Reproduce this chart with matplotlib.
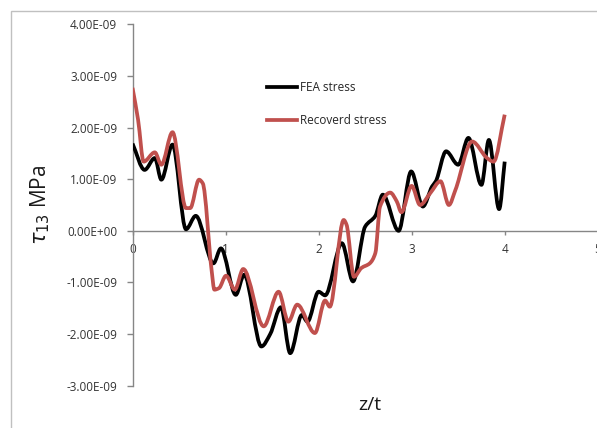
import matplotlib
matplotlib.use("Agg")
import matplotlib.pyplot as plt
from matplotlib.path import Path
from matplotlib.patches import PathPatch, Rectangle
from matplotlib.lines import Line2D
import numpy as np

plt.rcParams['font.family'] = ['Open Sans', 'DejaVu Sans']

# Through-thickness position z/t and shear stress (units of 1e-9 MPa)
fea_z = [0.00, 0.13, 0.24, 0.31, 0.43, 0.575, 0.68, 0.87, 0.95, 1.11, 1.20,
         1.385, 1.48, 1.595, 1.695, 1.82, 1.88, 2.00, 2.07, 2.25, 2.37, 2.50,
         2.61, 2.69, 2.86, 2.995, 3.12, 3.22, 3.26, 3.37, 3.50, 3.61, 3.75,
         3.83, 3.94, 4.00]
fea_stress = [1.69, 1.18, 1.41, 0.99, 1.67, 0.03, 0.29, -0.63, -0.34, -1.24,
              -0.85, -2.24, -2.00, -1.48, -2.37, -1.63, -1.76, -1.18, -1.25,
              -0.24, -0.98, 0.08, 0.29, 0.70, 0.00, 1.15, 0.47, 0.86, 0.96,
              1.54, 1.28, 1.80, 0.89, 1.76, 0.42, 1.34]

rec_z = [0.00, 0.06, 0.12, 0.24, 0.31, 0.43, 0.575, 0.62, 0.715, 0.755, 0.85,
         0.88, 0.93, 1.005, 1.10, 1.19, 1.41, 1.57, 1.675, 1.77, 1.96, 2.07,
         2.12, 2.27, 2.30, 2.38, 2.46, 2.55, 2.61, 2.66, 2.77, 2.84, 2.89,
         3.00, 3.09, 3.20, 3.31, 3.40, 3.47, 3.65, 3.81, 3.88, 4.00]
rec_stress = [2.77, 2.15, 1.34, 1.52, 1.28, 1.91, 0.44, 0.44, 0.99, 0.92,
              -0.76, -1.14, -1.11, -0.87, -1.14, -0.74, -1.85, -1.18, -1.76,
              -1.43, -1.98, -1.35, -1.47, 0.21, 0.12, -0.89, -0.72, -0.63,
              -0.43, 0.47, 0.74, 0.57, 0.36, 0.87, 0.50, 0.73, 0.96, 0.50,
              0.79, 1.73, 1.41, 1.34, 2.25]

series_names = ["FEA stress", "Recoverd stress"]
series_colors = ["#000000", "#C0504D"]

y_ticks = [-3, -2, -1, 0, 1, 2, 3, 4]
y_tick_labels = ["-3.00E-09", "-2.00E-09", "-1.00E-09", "0.00E+00",
                 "1.00E-09", "2.00E-09", "3.00E-09", "4.00E-09"]
x_ticks = [0, 1, 2, 3, 4, 5]
x_tick_labels = ["0", "1", "2", "3", "4", "5"]


def smooth_path(xs, ys):
    """Cubic Bezier path through the points with shape-preserving slopes."""
    x = np.asarray(xs, float)
    y = np.asarray(ys, float)
    h = np.diff(x)
    d = np.diff(y) / h
    n = len(x)
    m = np.zeros(n)
    for i in range(1, n - 1):
        if d[i - 1] * d[i] > 0:
            w1 = 2 * h[i] + h[i - 1]
            w2 = h[i] + 2 * h[i - 1]
            m[i] = (w1 + w2) / (w1 / d[i - 1] + w2 / d[i])
    m[0] = d[0]
    m[-1] = d[-1]
    verts = [(x[0], y[0])]
    codes = [Path.MOVETO]
    for i in range(n - 1):
        verts += [(x[i] + h[i] / 3, y[i] + m[i] * h[i] / 3),
                  (x[i + 1] - h[i] / 3, y[i + 1] - m[i + 1] * h[i] / 3),
                  (x[i + 1], y[i + 1])]
        codes += [Path.CURVE4] * 3
    return Path(verts, codes)


W, H = 597, 428
fig = plt.figure(figsize=(W / 100, H / 100), dpi=100)
fig.patch.set_facecolor("white")

# outer chart frame
fig.add_artist(Rectangle((10.7 / W, -0.5), 2.0, 1.5 - 10.7 / H,
                         transform=fig.transFigure, fill=False,
                         edgecolor="#C0C0C0", lw=1.0))

left, right = 132.5 / W, 597.75 / W
bottom, top = 1 - 385.7 / H, 1 - 24.3 / H
ax = fig.add_axes([left, bottom, right - left, top - bottom])
ax.set_xlim(0, 5)
ax.set_ylim(-3, 4)
ax.patch.set_alpha(0)

axis_color = "#868686"
for s in ["top", "right"]:
    ax.spines[s].set_visible(False)
ax.spines["left"].set_color(axis_color)
ax.spines["bottom"].set_color(axis_color)
ax.spines["bottom"].set_position(("data", 0))
ax.spines["left"].set_linewidth(1.0)
ax.spines["bottom"].set_linewidth(1.0)

ax.set_yticks(y_ticks)
ax.set_yticklabels(y_tick_labels)
ax.set_xticks(x_ticks)
ax.set_xticklabels(x_tick_labels)
ax.tick_params(axis="y", direction="out", length=4, width=1, color=axis_color,
               pad=7, labelsize=8.5, labelcolor="#333333")
ax.tick_params(axis="x", direction="out", length=3, width=1, color=axis_color,
               pad=6, labelsize=8.5, labelcolor="#333333")

for xs, ys, c in [(fea_z, fea_stress, series_colors[0]),
                  (rec_z, rec_stress, series_colors[1])]:
    ax.add_patch(PathPatch(smooth_path(xs, ys), fill=False, edgecolor=c,
                           lw=2.7, capstyle="butt", joinstyle="round",
                           zorder=3))

# legend
for i, (name, c) in enumerate(zip(series_names, series_colors)):
    ypx = 87.3 + i * 32.7
    yf = 1 - ypx / H
    fig.add_artist(Line2D([267 / W, 297 / W], [yf, yf],
                          transform=fig.transFigure, color=c, lw=2.7))
    fig.text(300 / W, yf, name, fontsize=8.5, color="#262626",
             ha="left", va="center")

fig.text(40 / W, 1 - 205 / H, r"$\tau_{13}$ MPa", rotation=90, fontsize=15,
         ha="center", va="center", color="#1a1a1a")
fig.text(370 / W, 1 - 405 / H, "z/t", fontsize=14, ha="center", va="center",
         color="#1a1a1a")

fig.savefig("out.png", dpi=100, facecolor="white")
